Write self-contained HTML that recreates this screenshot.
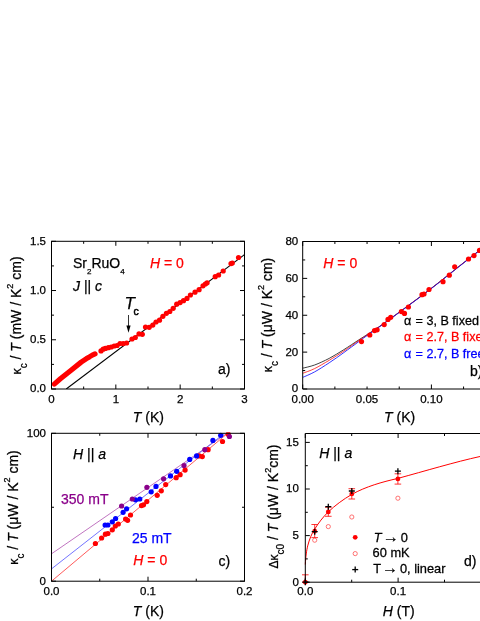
<!DOCTYPE html><html><head><meta charset="utf-8"><style>html,body{margin:0;padding:0;background:#fff;width:480px;height:621px;overflow:hidden}svg{display:block}svg{will-change:transform}text{font-family:"Liberation Sans",sans-serif;color:#000;fill:currentColor;stroke:currentColor;stroke-width:0.25px}</style></head><body>
<svg width="480" height="621" viewBox="0 0 480 621">
<rect width="480" height="621" fill="#fff"/>
<clipPath id="ca"><rect x="51.5" y="241.3" width="193.3" height="147.7"/></clipPath>
<g clip-path="url(#ca)">
<line x1="66.23" y1="389.00" x2="244.50" y2="254.59" stroke="#000" stroke-width="1.15"/>
<path d="M54.3,384.1 L60.4,378.8 L70.8,370.4 L81.2,362.1 L86.5,358.6 L89.4,356.9 L92.3,355.1 L95.0,353.9" fill="none" stroke="#ff0000" stroke-width="5.2" stroke-linecap="round" stroke-linejoin="round"/>
<circle cx="101.0" cy="350.9" r="2.6" fill="#ff0000"/>
<circle cx="103.2" cy="349.2" r="2.6" fill="#ff0000"/>
<circle cx="105.4" cy="348.4" r="2.6" fill="#ff0000"/>
<circle cx="108.3" cy="347.7" r="2.6" fill="#ff0000"/>
<circle cx="111.2" cy="347.0" r="2.6" fill="#ff0000"/>
<circle cx="114.2" cy="346.0" r="2.6" fill="#ff0000"/>
<circle cx="117.1" cy="345.5" r="2.6" fill="#ff0000"/>
<circle cx="120.0" cy="343.5" r="2.6" fill="#ff0000"/>
<circle cx="123.2" cy="343.6" r="2.6" fill="#ff0000"/>
<circle cx="126.6" cy="343.0" r="2.6" fill="#ff0000"/>
<circle cx="132.0" cy="339.0" r="2.6" fill="#ff0000"/>
<circle cx="135.3" cy="337.5" r="2.6" fill="#ff0000"/>
<circle cx="139.0" cy="333.9" r="2.6" fill="#ff0000"/>
<circle cx="142.3" cy="334.3" r="2.6" fill="#ff0000"/>
<circle cx="145.5" cy="327.0" r="2.6" fill="#ff0000"/>
<circle cx="149.2" cy="327.3" r="2.6" fill="#ff0000"/>
<circle cx="152.8" cy="325.1" r="2.6" fill="#ff0000"/>
<circle cx="156.0" cy="322.0" r="2.6" fill="#ff0000"/>
<circle cx="159.5" cy="320.2" r="2.6" fill="#ff0000"/>
<circle cx="162.9" cy="316.3" r="2.6" fill="#ff0000"/>
<circle cx="166.4" cy="313.3" r="2.6" fill="#ff0000"/>
<circle cx="169.8" cy="311.5" r="2.6" fill="#ff0000"/>
<circle cx="173.2" cy="308.3" r="2.6" fill="#ff0000"/>
<circle cx="176.7" cy="304.2" r="2.6" fill="#ff0000"/>
<circle cx="180.1" cy="302.6" r="2.6" fill="#ff0000"/>
<circle cx="183.5" cy="300.7" r="2.6" fill="#ff0000"/>
<circle cx="187.0" cy="298.4" r="2.6" fill="#ff0000"/>
<circle cx="190.4" cy="295.0" r="2.6" fill="#ff0000"/>
<circle cx="195.0" cy="292.2" r="2.6" fill="#ff0000"/>
<circle cx="199.1" cy="289.7" r="2.6" fill="#ff0000"/>
<circle cx="203.0" cy="285.8" r="2.6" fill="#ff0000"/>
<circle cx="205.3" cy="284.0" r="2.6" fill="#ff0000"/>
<circle cx="207.1" cy="282.8" r="2.6" fill="#ff0000"/>
<circle cx="215.2" cy="276.7" r="2.6" fill="#ff0000"/>
<circle cx="218.6" cy="275.0" r="2.6" fill="#ff0000"/>
<circle cx="223.2" cy="271.0" r="2.6" fill="#ff0000"/>
<circle cx="231.0" cy="263.6" r="2.6" fill="#ff0000"/>
<circle cx="232.3" cy="263.0" r="2.6" fill="#ff0000"/>
<circle cx="238.5" cy="257.5" r="2.6" fill="#ff0000"/>
<circle cx="247.0" cy="252.6" r="2.6" fill="#ff0000"/>
</g>
<line x1="128.50" y1="315.00" x2="128.50" y2="327.00" stroke="#000" stroke-width="0.8"/>
<path d="M126.4,325.4 L130.6,325.4 L128.5,332.8 Z" fill="#000"/>
<line x1="51.50" y1="389.00" x2="51.50" y2="384.50" stroke="#000" stroke-width="1"/>
<line x1="51.50" y1="241.30" x2="51.50" y2="245.80" stroke="#000" stroke-width="1"/>
<line x1="115.83" y1="389.00" x2="115.83" y2="384.50" stroke="#000" stroke-width="1"/>
<line x1="115.83" y1="241.30" x2="115.83" y2="245.80" stroke="#000" stroke-width="1"/>
<line x1="180.17" y1="389.00" x2="180.17" y2="384.50" stroke="#000" stroke-width="1"/>
<line x1="180.17" y1="241.30" x2="180.17" y2="245.80" stroke="#000" stroke-width="1"/>
<line x1="244.50" y1="389.00" x2="244.50" y2="384.50" stroke="#000" stroke-width="1"/>
<line x1="244.50" y1="241.30" x2="244.50" y2="245.80" stroke="#000" stroke-width="1"/>
<line x1="83.67" y1="389.00" x2="83.67" y2="386.50" stroke="#000" stroke-width="1"/>
<line x1="83.67" y1="241.30" x2="83.67" y2="243.80" stroke="#000" stroke-width="1"/>
<line x1="148.00" y1="389.00" x2="148.00" y2="386.50" stroke="#000" stroke-width="1"/>
<line x1="148.00" y1="241.30" x2="148.00" y2="243.80" stroke="#000" stroke-width="1"/>
<line x1="212.33" y1="389.00" x2="212.33" y2="386.50" stroke="#000" stroke-width="1"/>
<line x1="212.33" y1="241.30" x2="212.33" y2="243.80" stroke="#000" stroke-width="1"/>
<line x1="51.50" y1="389.00" x2="56.00" y2="389.00" stroke="#000" stroke-width="1"/>
<line x1="244.50" y1="389.00" x2="240.00" y2="389.00" stroke="#000" stroke-width="1"/>
<line x1="51.50" y1="339.77" x2="56.00" y2="339.77" stroke="#000" stroke-width="1"/>
<line x1="244.50" y1="339.77" x2="240.00" y2="339.77" stroke="#000" stroke-width="1"/>
<line x1="51.50" y1="290.53" x2="56.00" y2="290.53" stroke="#000" stroke-width="1"/>
<line x1="244.50" y1="290.53" x2="240.00" y2="290.53" stroke="#000" stroke-width="1"/>
<line x1="51.50" y1="241.30" x2="56.00" y2="241.30" stroke="#000" stroke-width="1"/>
<line x1="244.50" y1="241.30" x2="240.00" y2="241.30" stroke="#000" stroke-width="1"/>
<line x1="51.50" y1="364.38" x2="54.00" y2="364.38" stroke="#000" stroke-width="1"/>
<line x1="244.50" y1="364.38" x2="242.00" y2="364.38" stroke="#000" stroke-width="1"/>
<line x1="51.50" y1="315.15" x2="54.00" y2="315.15" stroke="#000" stroke-width="1"/>
<line x1="244.50" y1="315.15" x2="242.00" y2="315.15" stroke="#000" stroke-width="1"/>
<line x1="51.50" y1="265.92" x2="54.00" y2="265.92" stroke="#000" stroke-width="1"/>
<line x1="244.50" y1="265.92" x2="242.00" y2="265.92" stroke="#000" stroke-width="1"/>
<rect x="51.5" y="241.3" width="193.0" height="147.7" fill="none" stroke="#000" stroke-width="1"/>
<text x="46.00" y="392.40" font-size="11.5" text-anchor="end" >0.0</text>
<text x="46.00" y="343.17" font-size="11.5" text-anchor="end" >0.5</text>
<text x="46.00" y="293.93" font-size="11.5" text-anchor="end" >1.0</text>
<text x="46.00" y="244.70" font-size="11.5" text-anchor="end" >1.5</text>
<text x="51.50" y="402.80" font-size="11.5" text-anchor="middle" >0</text>
<text x="115.83" y="402.80" font-size="11.5" text-anchor="middle" >1</text>
<text x="180.17" y="402.80" font-size="11.5" text-anchor="middle" >2</text>
<text x="244.50" y="402.80" font-size="11.5" text-anchor="middle" >3</text>
<text x="148.40" y="421.60" font-size="14" text-anchor="middle" ><tspan font-style="italic">T</tspan> (K)</text>
<text transform="translate(20.9,315.5) rotate(-90)" font-size="14" text-anchor="middle"><tspan font-size="12.5">κ</tspan><tspan font-size="10" dy="6">c</tspan><tspan dy="-6"> / </tspan><tspan font-style="italic">T</tspan> (mW / K<tspan font-size="9" dy="-7.5">2</tspan><tspan dy="7.5"> cm)</tspan></text>
<text x="73" y="268.1" font-size="14">Sr<tspan font-size="8" dy="5.5">2</tspan><tspan dy="-5.5">RuO</tspan><tspan font-size="8" dy="5.5">4</tspan></text>
<text x="73" y="290.6" font-size="14"><tspan font-style="italic">J</tspan> || <tspan font-style="italic">c</tspan></text>
<text x="150" y="268.1" font-size="14" style="color:#ff0000"><tspan font-style="italic">H</tspan> = 0</text>
<text x="124.5" y="308.75" font-size="17"><tspan font-style="italic">T</tspan><tspan font-size="10.5" dy="6.2" dx="-1.3" stroke-width="0.5">c</tspan></text>
<text x="218.00" y="373.90" font-size="14" text-anchor="start" >a)</text>
<clipPath id="cb"><rect x="302.7" y="241.5" width="187.3" height="147.5"/></clipPath>
<g clip-path="url(#cb)">
<path d="M302.7,368.2 C304.7,367.7 310.2,366.6 314.6,365.0 C319.0,363.4 324.3,360.9 329.2,358.4 C334.1,355.8 338.9,352.7 343.8,349.7 C348.6,346.7 354.2,342.9 358.3,340.2 C362.4,337.5 364.7,336.2 368.5,333.7 C372.3,331.2 374.6,329.9 381.0,325.4 C387.4,320.8 398.4,312.8 407.1,306.4 C415.8,300.0 424.4,293.6 433.1,286.9 C441.8,280.2 451.4,272.4 459.2,266.2 C467.0,260.0 474.5,254.2 480.0,249.9 C485.5,245.6 490.0,242.1 492.0,240.5" fill="none" stroke="#000" stroke-width="0.75"/>
<path d="M302.7,373.3 C304.7,372.5 310.2,370.8 314.6,368.6 C319.0,366.4 324.3,363.2 329.2,360.3 C334.1,357.4 338.9,354.3 343.8,351.1 C348.6,347.9 354.2,343.8 358.3,340.9 C362.4,338.0 364.7,336.6 368.5,334.0 C372.3,331.4 374.6,330.1 381.0,325.5 C387.4,321.0 398.4,313.0 407.1,306.5 C415.8,300.1 424.4,293.7 433.1,287.0 C441.8,280.3 451.4,272.5 459.2,266.3 C467.0,260.2 474.5,254.3 480.0,250.1 C485.5,245.8 490.0,242.2 492.0,240.7" fill="none" stroke="#ff0000" stroke-width="0.75"/>
<path d="M302.7,377.4 C304.7,376.5 310.2,374.3 314.6,371.9 C319.0,369.5 324.3,366.0 329.2,362.8 C334.1,359.6 338.9,356.1 343.8,352.6 C348.6,349.1 354.2,345.0 358.3,342.0 C362.4,339.0 364.7,337.2 368.5,334.5 C372.3,331.8 374.6,330.3 381.0,325.7 C387.4,321.1 398.4,313.1 407.1,306.7 C415.8,300.3 424.4,293.9 433.1,287.2 C441.8,280.5 451.4,272.7 459.2,266.5 C467.0,260.3 474.5,254.5 480.0,250.2 C485.5,245.9 490.0,242.4 492.0,240.8" fill="none" stroke="#0000ff" stroke-width="0.8"/>
<circle cx="361.5" cy="341.6" r="2.6" fill="#ff0000"/>
<circle cx="369.8" cy="335.0" r="2.6" fill="#ff0000"/>
<circle cx="374.5" cy="330.6" r="2.6" fill="#ff0000"/>
<circle cx="377.1" cy="329.8" r="2.6" fill="#ff0000"/>
<circle cx="384.2" cy="324.6" r="2.6" fill="#ff0000"/>
<circle cx="388.0" cy="319.4" r="2.6" fill="#ff0000"/>
<circle cx="390.7" cy="317.3" r="2.6" fill="#ff0000"/>
<circle cx="401.4" cy="311.6" r="2.6" fill="#ff0000"/>
<circle cx="404.5" cy="313.4" r="2.6" fill="#ff0000"/>
<circle cx="408.4" cy="307.0" r="2.6" fill="#ff0000"/>
<circle cx="422.0" cy="294.7" r="2.6" fill="#ff0000"/>
<circle cx="424.0" cy="294.0" r="2.6" fill="#ff0000"/>
<circle cx="429.0" cy="289.5" r="2.6" fill="#ff0000"/>
<circle cx="443.0" cy="281.7" r="2.6" fill="#ff0000"/>
<circle cx="449.3" cy="275.2" r="2.6" fill="#ff0000"/>
<circle cx="454.7" cy="266.8" r="2.6" fill="#ff0000"/>
<circle cx="468.5" cy="259.0" r="2.6" fill="#ff0000"/>
<circle cx="474.0" cy="255.6" r="2.6" fill="#ff0000"/>
<circle cx="479.5" cy="250.4" r="2.6" fill="#ff0000"/>
</g>
<line x1="302.70" y1="389.00" x2="302.70" y2="384.50" stroke="#000" stroke-width="1"/>
<line x1="302.70" y1="241.50" x2="302.70" y2="246.00" stroke="#000" stroke-width="1"/>
<line x1="431.40" y1="389.00" x2="431.40" y2="384.50" stroke="#000" stroke-width="1"/>
<line x1="431.40" y1="241.50" x2="431.40" y2="246.00" stroke="#000" stroke-width="1"/>
<line x1="334.88" y1="389.00" x2="334.88" y2="386.50" stroke="#000" stroke-width="1"/>
<line x1="334.88" y1="241.50" x2="334.88" y2="244.00" stroke="#000" stroke-width="1"/>
<line x1="367.05" y1="389.00" x2="367.05" y2="386.50" stroke="#000" stroke-width="1"/>
<line x1="367.05" y1="241.50" x2="367.05" y2="244.00" stroke="#000" stroke-width="1"/>
<line x1="399.22" y1="389.00" x2="399.22" y2="386.50" stroke="#000" stroke-width="1"/>
<line x1="399.22" y1="241.50" x2="399.22" y2="244.00" stroke="#000" stroke-width="1"/>
<line x1="463.57" y1="389.00" x2="463.57" y2="386.50" stroke="#000" stroke-width="1"/>
<line x1="463.57" y1="241.50" x2="463.57" y2="244.00" stroke="#000" stroke-width="1"/>
<line x1="302.70" y1="389.00" x2="307.20" y2="389.00" stroke="#000" stroke-width="1"/>
<line x1="302.70" y1="352.12" x2="307.20" y2="352.12" stroke="#000" stroke-width="1"/>
<line x1="302.70" y1="315.25" x2="307.20" y2="315.25" stroke="#000" stroke-width="1"/>
<line x1="302.70" y1="278.38" x2="307.20" y2="278.38" stroke="#000" stroke-width="1"/>
<line x1="302.70" y1="241.50" x2="307.20" y2="241.50" stroke="#000" stroke-width="1"/>
<line x1="302.70" y1="370.56" x2="305.20" y2="370.56" stroke="#000" stroke-width="1"/>
<line x1="302.70" y1="333.69" x2="305.20" y2="333.69" stroke="#000" stroke-width="1"/>
<line x1="302.70" y1="296.81" x2="305.20" y2="296.81" stroke="#000" stroke-width="1"/>
<line x1="302.70" y1="259.94" x2="305.20" y2="259.94" stroke="#000" stroke-width="1"/>
<path d="M490,241.5H302.7V389H490" fill="none" stroke="#000" stroke-width="1"/>
<text x="298.20" y="392.40" font-size="11.5" text-anchor="end" >0</text>
<text x="298.20" y="355.52" font-size="11.5" text-anchor="end" >20</text>
<text x="298.20" y="318.65" font-size="11.5" text-anchor="end" >40</text>
<text x="298.20" y="281.77" font-size="11.5" text-anchor="end" >60</text>
<text x="298.20" y="244.90" font-size="11.5" text-anchor="end" >80</text>
<text x="302.70" y="402.80" font-size="11.5" text-anchor="middle" >0.00</text>
<text x="367.05" y="402.80" font-size="11.5" text-anchor="middle" >0.05</text>
<text x="431.40" y="402.80" font-size="11.5" text-anchor="middle" >0.10</text>
<text x="399.60" y="421.60" font-size="14" text-anchor="middle" ><tspan font-style="italic">T</tspan> (K)</text>
<text transform="translate(271.7,315) rotate(-90)" font-size="14" text-anchor="middle"><tspan font-size="12.5">κ</tspan><tspan font-size="10" dy="6">c</tspan><tspan dy="-6"> / </tspan><tspan font-style="italic">T</tspan> (μW / K<tspan font-size="9" dy="-7.5">2</tspan><tspan dy="7.5"> cm)</tspan></text>
<text x="323.3" y="267.8" font-size="14" style="color:#ff0000"><tspan font-style="italic">H</tspan> = 0</text>
<text transform="translate(404,325) scale(1.05,1)" font-size="12">α<tspan dx="0.8"> = 3, B fixed</tspan></text>
<text transform="translate(404,341.3) scale(1.05,1)" font-size="12" style="color:#ff0000">α<tspan dx="0.8"> = 2.7, B fixed</tspan></text>
<text transform="translate(404,357.6) scale(1.05,1)" font-size="12" style="color:#0000ff">α<tspan dx="0.8"> = 2.7, B free</tspan></text>
<text x="470.00" y="375.80" font-size="14" text-anchor="start" >b)</text>
<clipPath id="cc"><rect x="51.5" y="432.3" width="193.0" height="148.90000000000003"/></clipPath>
<g clip-path="url(#cc)">
<line x1="51.50" y1="553.80" x2="227.00" y2="433.30" stroke="#b050b0" stroke-width="0.8"/>
<line x1="51.50" y1="568.90" x2="224.50" y2="433.30" stroke="#5050ff" stroke-width="0.8"/>
<line x1="51.50" y1="581.20" x2="227.60" y2="433.30" stroke="#ff3030" stroke-width="0.8"/>
<circle cx="95.4" cy="543.5" r="2.6" fill="#ff0000"/>
<circle cx="101.6" cy="538.0" r="2.6" fill="#ff0000"/>
<circle cx="105.4" cy="534.2" r="2.6" fill="#ff0000"/>
<circle cx="107.9" cy="533.5" r="2.6" fill="#ff0000"/>
<circle cx="112.3" cy="529.8" r="2.6" fill="#ff0000"/>
<circle cx="115.3" cy="526.0" r="2.6" fill="#ff0000"/>
<circle cx="118.3" cy="524.0" r="2.6" fill="#ff0000"/>
<circle cx="125.6" cy="519.0" r="2.6" fill="#ff0000"/>
<circle cx="127.6" cy="520.3" r="2.6" fill="#ff0000"/>
<circle cx="130.5" cy="515.0" r="2.6" fill="#ff0000"/>
<circle cx="141.5" cy="505.6" r="2.6" fill="#ff0000"/>
<circle cx="143.5" cy="504.8" r="2.6" fill="#ff0000"/>
<circle cx="146.8" cy="501.6" r="2.6" fill="#ff0000"/>
<circle cx="157.2" cy="495.3" r="2.6" fill="#ff0000"/>
<circle cx="161.3" cy="490.8" r="2.6" fill="#ff0000"/>
<circle cx="165.7" cy="484.6" r="2.6" fill="#ff0000"/>
<circle cx="176.2" cy="477.7" r="2.6" fill="#ff0000"/>
<circle cx="180.1" cy="474.7" r="2.6" fill="#ff0000"/>
<circle cx="185.1" cy="470.1" r="2.6" fill="#ff0000"/>
<circle cx="199.1" cy="455.9" r="2.6" fill="#ff0000"/>
<circle cx="202.3" cy="456.6" r="2.6" fill="#ff0000"/>
<circle cx="208.1" cy="449.7" r="2.6" fill="#ff0000"/>
<circle cx="222.5" cy="441.5" r="2.6" fill="#ff0000"/>
<circle cx="228.2" cy="434.2" r="2.6" fill="#ff0000"/>
<circle cx="105.1" cy="525.0" r="2.6" fill="#0000ff"/>
<circle cx="107.9" cy="525.0" r="2.6" fill="#0000ff"/>
<circle cx="112.3" cy="521.8" r="2.6" fill="#0000ff"/>
<circle cx="115.6" cy="518.5" r="2.6" fill="#0000ff"/>
<circle cx="123.1" cy="512.3" r="2.6" fill="#0000ff"/>
<circle cx="126.6" cy="508.8" r="2.6" fill="#0000ff"/>
<circle cx="135.5" cy="499.8" r="2.6" fill="#0000ff"/>
<circle cx="139.8" cy="499.0" r="2.6" fill="#0000ff"/>
<circle cx="151.2" cy="491.8" r="2.6" fill="#0000ff"/>
<circle cx="156.0" cy="486.4" r="2.6" fill="#0000ff"/>
<circle cx="170.5" cy="475.9" r="2.6" fill="#0000ff"/>
<circle cx="176.7" cy="471.3" r="2.6" fill="#0000ff"/>
<circle cx="189.7" cy="459.4" r="2.6" fill="#0000ff"/>
<circle cx="196.6" cy="455.9" r="2.6" fill="#0000ff"/>
<circle cx="212.9" cy="440.4" r="2.6" fill="#0000ff"/>
<circle cx="220.7" cy="435.3" r="2.6" fill="#0000ff"/>
<circle cx="121.6" cy="506.0" r="2.6" fill="#8a008a"/>
<circle cx="132.3" cy="499.0" r="2.6" fill="#8a008a"/>
<circle cx="146.9" cy="487.3" r="2.6" fill="#8a008a"/>
<circle cx="163.6" cy="478.8" r="2.6" fill="#8a008a"/>
<circle cx="184.0" cy="465.6" r="2.6" fill="#8a008a"/>
<circle cx="204.8" cy="449.7" r="2.6" fill="#8a008a"/>
<circle cx="229.4" cy="436.5" r="2.6" fill="#8a008a"/>
</g>
<line x1="51.50" y1="581.20" x2="51.50" y2="576.70" stroke="#000" stroke-width="1"/>
<line x1="51.50" y1="433.30" x2="51.50" y2="437.80" stroke="#000" stroke-width="1"/>
<line x1="148.00" y1="581.20" x2="148.00" y2="576.70" stroke="#000" stroke-width="1"/>
<line x1="148.00" y1="433.30" x2="148.00" y2="437.80" stroke="#000" stroke-width="1"/>
<line x1="244.50" y1="581.20" x2="244.50" y2="576.70" stroke="#000" stroke-width="1"/>
<line x1="244.50" y1="433.30" x2="244.50" y2="437.80" stroke="#000" stroke-width="1"/>
<line x1="99.75" y1="581.20" x2="99.75" y2="578.70" stroke="#000" stroke-width="1"/>
<line x1="99.75" y1="433.30" x2="99.75" y2="435.80" stroke="#000" stroke-width="1"/>
<line x1="196.25" y1="581.20" x2="196.25" y2="578.70" stroke="#000" stroke-width="1"/>
<line x1="196.25" y1="433.30" x2="196.25" y2="435.80" stroke="#000" stroke-width="1"/>
<line x1="51.50" y1="581.20" x2="56.00" y2="581.20" stroke="#000" stroke-width="1"/>
<line x1="244.50" y1="581.20" x2="240.00" y2="581.20" stroke="#000" stroke-width="1"/>
<line x1="51.50" y1="433.30" x2="56.00" y2="433.30" stroke="#000" stroke-width="1"/>
<line x1="244.50" y1="433.30" x2="240.00" y2="433.30" stroke="#000" stroke-width="1"/>
<line x1="51.50" y1="507.25" x2="54.00" y2="507.25" stroke="#000" stroke-width="1"/>
<line x1="244.50" y1="507.25" x2="242.00" y2="507.25" stroke="#000" stroke-width="1"/>
<rect x="51.5" y="433.3" width="193.0" height="147.90000000000003" fill="none" stroke="#000" stroke-width="1"/>
<text x="46.00" y="584.60" font-size="11.5" text-anchor="end" >0</text>
<text x="46.00" y="436.70" font-size="11.5" text-anchor="end" >100</text>
<text x="51.50" y="595.30" font-size="11.5" text-anchor="middle" >0.0</text>
<text x="148.00" y="595.30" font-size="11.5" text-anchor="middle" >0.1</text>
<text x="244.50" y="595.30" font-size="11.5" text-anchor="middle" >0.2</text>
<text x="148.40" y="616.00" font-size="14" text-anchor="middle" ><tspan font-style="italic">T</tspan> (K)</text>
<text transform="translate(17.9,507.5) rotate(-90)" font-size="14" text-anchor="middle"><tspan font-size="12.5">κ</tspan><tspan font-size="10" dy="6">c</tspan><tspan dy="-6"> / </tspan><tspan font-style="italic">T</tspan> (μW / K<tspan font-size="9" dy="-7.5">2</tspan><tspan dy="7.5"> cm)</tspan></text>
<text x="73" y="459" font-size="14"><tspan font-style="italic">H</tspan> || <tspan font-style="italic">a</tspan></text>
<text x="61" y="503.9" font-size="14" style="color:#8a008a">350 mT</text>
<text x="132" y="543" font-size="14" style="color:#0000ff">25 mT</text>
<text x="133.3" y="564.5" font-size="14" style="color:#ff0000"><tspan font-style="italic">H</tspan> = 0</text>
<text x="218.50" y="566.20" font-size="14" text-anchor="start" >c)</text>
<clipPath id="cd"><rect x="301.3" y="433.5" width="184.7" height="152.70000000000005"/></clipPath>
<g clip-path="url(#cd)">
<path d="M305.3,564.5 C305.8,556 306.5,551 307.7,545.9 C309.5,539 311.5,534 314.7,529.1 C318.5,523 323,517 328.3,511.9 C335,505.5 343,499.5 351.8,494.4 C366,486.5 382,482 397.9,478.4 C425,471 455,462 480,456.5" fill="none" stroke="#ff0000" stroke-width="1"/>
<circle cx="314.7" cy="540.2" r="2.1" fill="#fff" stroke="#ff5050" stroke-width="0.8"/>
<line x1="314.70" y1="524.50" x2="314.70" y2="537.60" stroke="#ff0000" stroke-width="0.8"/>
<line x1="311.40" y1="524.50" x2="318.00" y2="524.50" stroke="#ff0000" stroke-width="0.8"/>
<line x1="311.40" y1="537.60" x2="318.00" y2="537.60" stroke="#ff0000" stroke-width="0.8"/>
<circle cx="314.7" cy="531.2" r="2.4" fill="#ff0000"/>
<line x1="311.70" y1="531.70" x2="317.70" y2="531.70" stroke="#000" stroke-width="1.3"/>
<line x1="314.70" y1="528.70" x2="314.70" y2="534.70" stroke="#000" stroke-width="1.3"/>
<circle cx="328.3" cy="526.6" r="2.1" fill="#fff" stroke="#ff5050" stroke-width="0.8"/>
<line x1="328.30" y1="507.30" x2="328.30" y2="516.30" stroke="#ff0000" stroke-width="0.8"/>
<line x1="325.00" y1="507.30" x2="331.60" y2="507.30" stroke="#ff0000" stroke-width="0.8"/>
<line x1="325.00" y1="516.30" x2="331.60" y2="516.30" stroke="#ff0000" stroke-width="0.8"/>
<circle cx="328.3" cy="511.9" r="2.4" fill="#ff0000"/>
<line x1="325.30" y1="506.70" x2="331.30" y2="506.70" stroke="#000" stroke-width="1.3"/>
<line x1="328.30" y1="503.70" x2="328.30" y2="509.70" stroke="#000" stroke-width="1.3"/>
<circle cx="351.8" cy="517.0" r="2.1" fill="#fff" stroke="#ff5050" stroke-width="0.8"/>
<line x1="351.80" y1="488.70" x2="351.80" y2="499.00" stroke="#ff0000" stroke-width="0.8"/>
<line x1="348.50" y1="488.70" x2="355.10" y2="488.70" stroke="#ff0000" stroke-width="0.8"/>
<line x1="348.50" y1="499.00" x2="355.10" y2="499.00" stroke="#ff0000" stroke-width="0.8"/>
<circle cx="351.8" cy="493.9" r="2.4" fill="#ff0000"/>
<line x1="348.80" y1="491.00" x2="354.80" y2="491.00" stroke="#000" stroke-width="1.3"/>
<line x1="351.80" y1="488.00" x2="351.80" y2="494.00" stroke="#000" stroke-width="1.3"/>
<circle cx="397.9" cy="498.2" r="2.1" fill="#fff" stroke="#ff5050" stroke-width="0.8"/>
<line x1="397.90" y1="473.80" x2="397.90" y2="484.10" stroke="#ff0000" stroke-width="0.8"/>
<line x1="394.60" y1="473.80" x2="401.20" y2="473.80" stroke="#ff0000" stroke-width="0.8"/>
<line x1="394.60" y1="484.10" x2="401.20" y2="484.10" stroke="#ff0000" stroke-width="0.8"/>
<circle cx="397.9" cy="478.9" r="2.4" fill="#ff0000"/>
<line x1="394.90" y1="471.20" x2="400.90" y2="471.20" stroke="#000" stroke-width="1.3"/>
<line x1="397.90" y1="468.20" x2="397.90" y2="474.20" stroke="#000" stroke-width="1.3"/>
<line x1="305.30" y1="574.80" x2="305.30" y2="582.20" stroke="#ff0000" stroke-width="0.8"/>
<line x1="302.00" y1="574.80" x2="308.60" y2="574.80" stroke="#ff0000" stroke-width="0.8"/>
<line x1="302.00" y1="582.20" x2="308.60" y2="582.20" stroke="#ff0000" stroke-width="0.8"/>
<circle cx="305.3" cy="582.2" r="2.4" fill="#ff0000"/>
<line x1="302.30" y1="582.20" x2="308.30" y2="582.20" stroke="#000" stroke-width="1.3"/>
<line x1="305.30" y1="579.20" x2="305.30" y2="585.20" stroke="#000" stroke-width="1.3"/>
</g>
<line x1="305.30" y1="582.20" x2="305.30" y2="577.70" stroke="#000" stroke-width="1"/>
<line x1="305.30" y1="433.50" x2="305.30" y2="438.00" stroke="#000" stroke-width="1"/>
<line x1="398.10" y1="582.20" x2="398.10" y2="577.70" stroke="#000" stroke-width="1"/>
<line x1="398.10" y1="433.50" x2="398.10" y2="438.00" stroke="#000" stroke-width="1"/>
<line x1="351.70" y1="582.20" x2="351.70" y2="579.70" stroke="#000" stroke-width="1"/>
<line x1="351.70" y1="433.50" x2="351.70" y2="436.00" stroke="#000" stroke-width="1"/>
<line x1="444.50" y1="582.20" x2="444.50" y2="579.70" stroke="#000" stroke-width="1"/>
<line x1="444.50" y1="433.50" x2="444.50" y2="436.00" stroke="#000" stroke-width="1"/>
<line x1="305.30" y1="582.20" x2="309.80" y2="582.20" stroke="#000" stroke-width="1"/>
<line x1="305.30" y1="535.60" x2="309.80" y2="535.60" stroke="#000" stroke-width="1"/>
<line x1="305.30" y1="489.00" x2="309.80" y2="489.00" stroke="#000" stroke-width="1"/>
<line x1="305.30" y1="442.40" x2="309.80" y2="442.40" stroke="#000" stroke-width="1"/>
<line x1="305.30" y1="558.90" x2="307.80" y2="558.90" stroke="#000" stroke-width="1"/>
<line x1="305.30" y1="512.30" x2="307.80" y2="512.30" stroke="#000" stroke-width="1"/>
<line x1="305.30" y1="465.70" x2="307.80" y2="465.70" stroke="#000" stroke-width="1"/>
<path d="M490,433.5H305.3V582.2H490" fill="none" stroke="#000" stroke-width="1"/>
<text x="298.80" y="585.60" font-size="11.5" text-anchor="end" >0</text>
<text x="298.80" y="539.00" font-size="11.5" text-anchor="end" >5</text>
<text x="298.80" y="492.40" font-size="11.5" text-anchor="end" >10</text>
<text x="298.80" y="445.80" font-size="11.5" text-anchor="end" >15</text>
<text x="305.30" y="595.30" font-size="11.5" text-anchor="middle" >0.0</text>
<text x="398.10" y="595.30" font-size="11.5" text-anchor="middle" >0.1</text>
<text x="398.75" y="616.00" font-size="14" text-anchor="middle" ><tspan font-style="italic">H</tspan> (T)</text>
<text transform="translate(278.1,506.5) rotate(-90)" font-size="14" text-anchor="middle"><tspan font-size="12">Δ</tspan><tspan font-size="12">κ</tspan><tspan font-size="10" dy="6">c0</tspan><tspan dy="-6"> / </tspan><tspan font-style="italic">T</tspan> (μW / K<tspan font-size="9" dy="-7.5">2</tspan><tspan dy="7.5">cm)</tspan></text>
<text x="319.2" y="458.3" font-size="14"><tspan font-style="italic">H</tspan> || <tspan font-style="italic">a</tspan></text>
<circle cx="355.2" cy="537.3" r="2.4" fill="#ff0000"/>
<circle cx="355.2" cy="553.6" r="2.1" fill="#fff" stroke="#ff5050" stroke-width="0.8"/>
<line x1="352.20" y1="569.60" x2="358.20" y2="569.60" stroke="#000" stroke-width="1.3"/>
<line x1="355.20" y1="566.60" x2="355.20" y2="572.60" stroke="#000" stroke-width="1.3"/>
<text transform="translate(373.8,541.5) scale(1.07,1)" font-size="12"><tspan font-style="italic">T</tspan> <tspan font-size="15" dx="-2.2">→</tspan><tspan dx="-1.6"> 0</tspan></text>
<text transform="translate(372.6,557.4) scale(1.07,1)" font-size="12">60 mK</text>
<text transform="translate(373.2,573.3) scale(1.07,1)" font-size="12">T <tspan font-size="15" dx="-2.2">→</tspan><tspan dx="-1.6"> 0, linear</tspan></text>
<text x="464.00" y="565.80" font-size="14" text-anchor="start" >d)</text>
</svg></body></html>
